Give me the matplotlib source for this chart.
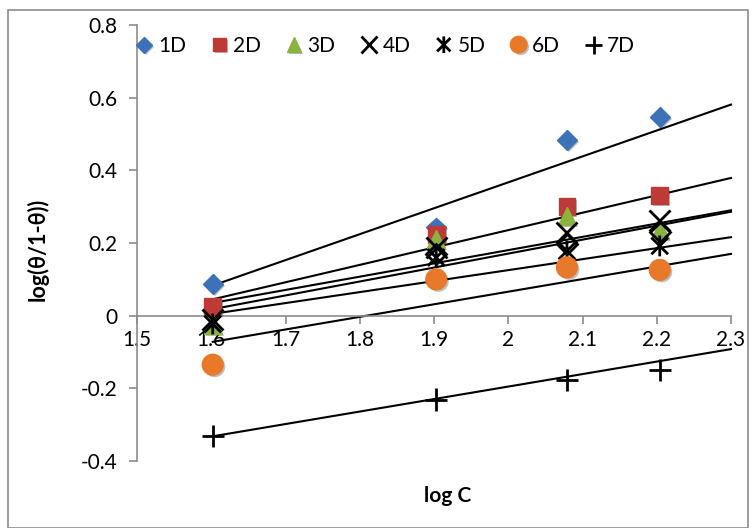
import numpy as np
import matplotlib.pyplot as plt
from matplotlib.path import Path
from matplotlib.patches import Rectangle
import matplotlib.patheffects as pe

plt.rcParams['font.family'] = ['Lato', 'DejaVu Sans']

# log C for 40, 80, 120, 160
log_c = [1.602, 1.903, 2.079, 2.204]

d1 = [0.088, 0.243, 0.484, 0.546]
d2 = [0.025, 0.224, 0.300, 0.330]
d3 = [-0.025, 0.210, 0.275, 0.235]
d4 = [-0.010, 0.188, 0.230, 0.261]
d5 = [-0.023, 0.160, 0.178, 0.192]
d6 = [-0.135, 0.100, 0.133, 0.126]
d7 = [-0.332, -0.231, -0.176, -0.150]
# unlabelled open-diamond series
d8 = [0.013, 0.170, 0.197, 0.230]

# linear trendlines: value at first log C and at 2.3
trend_start = [0.083, 0.045, 0.035, 0.018, 0.005, -0.072, -0.332]
trend_end = [0.581, 0.379, 0.290, 0.286, 0.216, 0.170, -0.092]
trend_x = [1.602, 2.3]

labels = ['1D', '2D', '3D', '4D', '5D', '6D', '7D']

# asterisk marker: x plus vertical bar
star = Path([(-1, -1), (1, 1), (-1, 1), (1, -1), (0, -1.25), (0, 1.25)],
            [Path.MOVETO, Path.LINETO, Path.MOVETO, Path.LINETO, Path.MOVETO, Path.LINETO])

shadow = [pe.SimplePatchShadow(offset=(1.5, -1.5), alpha=0.25, shadow_rgbFace='k'), pe.Normal()]

styles = [
    dict(marker='D', ms=10, color='#3E72B8'),
    dict(marker='s', ms=12, color='#BE3A36'),
    dict(marker='^', ms=13, color='#8AB43E'),
    dict(marker='x', ms=15, mew=2, color='black'),
    dict(marker=star, ms=15, mew=2, color='black'),
    dict(marker='o', ms=15, color='#E8792A'),
    dict(marker='+', ms=16, mew=2, color='black'),
]

fig = plt.figure(figsize=(7.52, 5.28), dpi=100)
ax = fig.add_axes([137 / 752, 1 - 461 / 528, (731 - 137) / 752, (461 - 25) / 528])

for ys, lo, hi in zip([d1, d2, d3, d4, d5, d6, d7], trend_start, trend_end):
    ax.plot(trend_x, [lo, hi], color='black', lw=1.5, zorder=2, clip_on=False)

handles = []
for ys, lab, st in zip([d1, d2, d3, d4, d5, d6, d7], labels, styles):
    h, = ax.plot(log_c, ys, ls='none', label=lab, zorder=3, path_effects=shadow, **st)
    handles.append(h)

ax.plot(log_c[1:], d8[1:], ls='none', marker='D', ms=10, mfc='none', mec='black', mew=2, zorder=3)

ax.set_xlim(1.5, 2.3)
ax.set_ylim(-0.4, 0.8)
ax.set_xticks(np.arange(1.5, 2.31, 0.1))
ax.set_xticklabels(['1.5', '1.6', '1.7', '1.8', '1.9', '2', '2.1', '2.2', '2.3'])
ax.set_yticks([-0.4, -0.2, 0, 0.2, 0.4, 0.6, 0.8])
ax.set_yticklabels(['-0.4', '-0.2', '0', '0.2', '0.4', '0.6', '0.8'])

ax.spines['top'].set_visible(False)
ax.spines['right'].set_visible(False)
ax.spines['bottom'].set_position(('data', 0))
for s in ['left', 'bottom']:
    ax.spines[s].set_color('#8c8c8c')
    ax.spines[s].set_linewidth(1.2)
ax.tick_params(axis='both', direction='out', length=6, width=1.2, color='#8c8c8c',
               labelsize=15, labelcolor='black')
ax.tick_params(axis='y', pad=8)
ax.tick_params(axis='x', pad=4)

fig.text(448 / 752, 1 - 496 / 528, 'log C', ha='center', va='center',
         fontsize=15, fontweight='bold')
fig.text(38 / 752, 1 - 249 / 528, 'log(θ/1-θ))', ha='center', va='center',
         rotation=90, fontsize=15.5, fontweight='bold')

fig.legend(handles=handles, loc='center left', bbox_to_anchor=(137 / 752, 1 - 46 / 528),
           ncol=7, frameon=False, fontsize=15, handlelength=0.7, handletextpad=0.3,
           columnspacing=1.25, markerscale=0.8, borderaxespad=0, borderpad=0)

fig.patches.append(Rectangle((8 / 752, 0.0), 740 / 752, 1 - 10 / 528, transform=fig.transFigure,
                             fill=False, edgecolor='#8c8c8c', lw=1.2))

fig.savefig('out.png', dpi=100)
